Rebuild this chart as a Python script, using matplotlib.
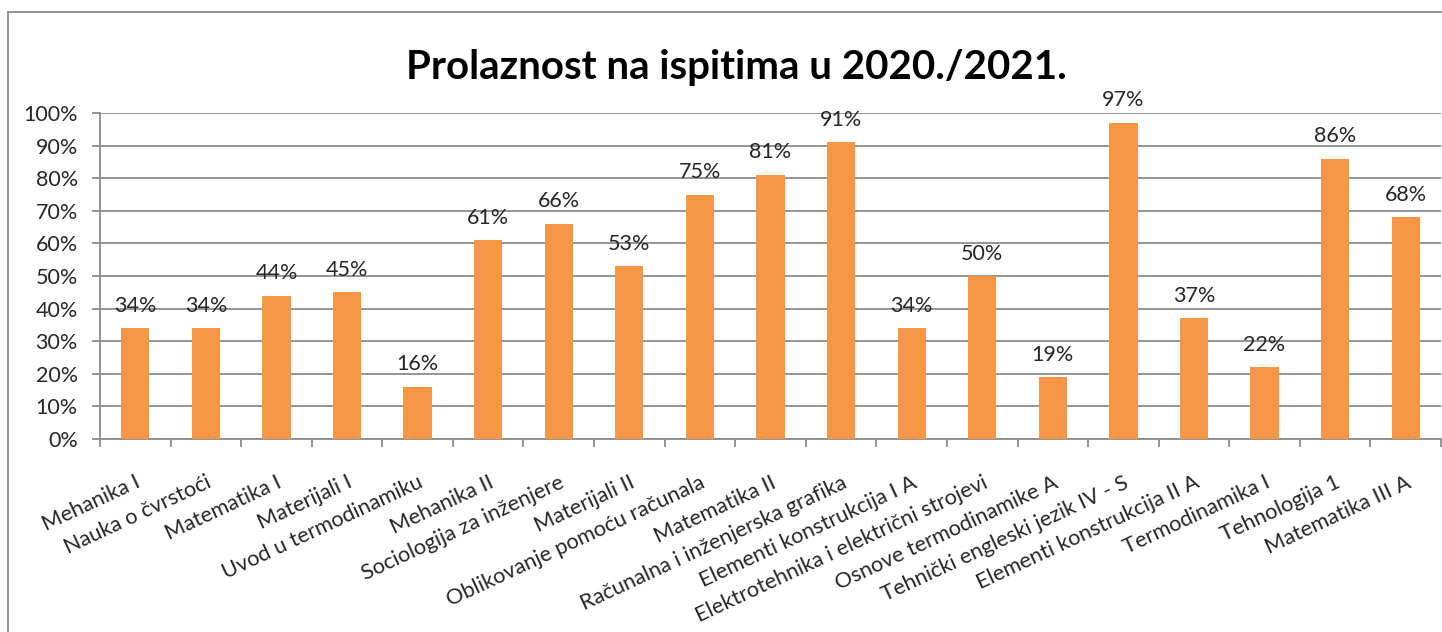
import matplotlib.pyplot as plt
from matplotlib.lines import Line2D
from matplotlib.ticker import PercentFormatter

# podaci - prolaznost po predmetima
predmeti = ["Mehanika I", "Nauka o čvrstoći", "Matematika I", "Materijali I",
            "Uvod u termodinamiku", "Mehanika II", "Sociologija za inženjere",
            "Materijali II", "Oblikovanje pomoću računala", "Matematika II",
            "Računalna i inženjerska grafika", "Elementi konstrukcija I A",
            "Elektrotehnika i električni strojevi", "Osnove termodinamike A",
            "Tehnički engleski jezik IV - S", "Elementi konstrukcija II A",
            "Termodinamika I", "Tehnologija 1", "Matematika III A"]
prolaznost = [34, 34, 44, 45, 16, 61, 66, 53, 75, 81, 91, 34, 50, 19, 97, 37, 22, 86, 68]

plt.rcParams['font.family'] = ['Lato', 'DejaVu Sans']

fig = plt.figure(figsize=(14.42, 6.32), dpi=100)
ax = fig.add_axes([100 / 1442, 193 / 632, 1341 / 1442, 326 / 632])

x = range(len(predmeti))
vals = [v / 100 for v in prolaznost]
bars = ax.bar(x, vals, width=0.4, color="#F79646", zorder=3)

for b, v in zip(bars, prolaznost):
    ax.annotate(f"{v}%", (b.get_x() + b.get_width() / 2, b.get_height()),
                xytext=(0, 9), textcoords="offset points", ha="center", va="bottom",
                fontsize=15.5, color="#262626")

ax.set_xlim(-0.5, len(predmeti) - 0.5)
ax.set_ylim(0, 1)
ax.set_yticks([i / 10 for i in range(11)])
ax.yaxis.set_major_formatter(PercentFormatter(1.0, decimals=0))
ax.grid(axis="y", color="#8c8c8c", linewidth=1.3, zorder=0)

ax.set_xticks(list(x))
ax.set_xticklabels(predmeti, rotation=25, ha="right", rotation_mode="anchor",
                   fontsize=15.7, color="#262626")
ax.set_xticks([i - 0.5 for i in range(len(predmeti) + 1)], minor=True)
ax.tick_params(axis="x", which="major", length=0, pad=24)
ax.tick_params(axis="x", which="minor", length=6, width=1.3, color="#8c8c8c")
ax.tick_params(axis="y", length=6, width=1.3, color="#8c8c8c", labelsize=15.5,
               labelcolor="#262626", pad=10)

for s in ["top", "right"]:
    ax.spines[s].set_visible(False)
for s in ["left", "bottom"]:
    ax.spines[s].set_color("#8c8c8c")
    ax.spines[s].set_linewidth(1.3)

fig.text(736 / 1442, 1 - 67 / 632, "Prolaznost na ispitima u 2020./2021.",
         ha="center", va="center", fontsize=29, fontweight="bold", color="black")

# okvir grafikona
fig.add_artist(Line2D([8 / 1442, 8 / 1442], [-0.1, 1 - 12 / 632], color="#8c8c8c", lw=1.3))
fig.add_artist(Line2D([8 / 1442, 1.1], [1 - 12 / 632, 1 - 12 / 632], color="#8c8c8c", lw=1.3))

fig.savefig("out.png", dpi=100)
